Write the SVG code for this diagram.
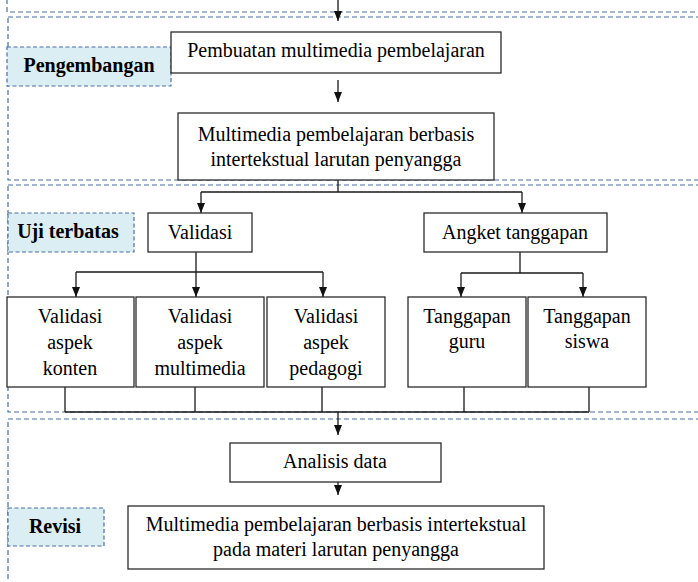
<svg xmlns="http://www.w3.org/2000/svg" width="698" height="582" viewBox="0 0 698 582">
<style>
.sec{fill:none;stroke:#4a6fa5;stroke-width:1.2;stroke-dasharray:5 3}
.lab{fill:#dbeef3;stroke:#4a6fa5;stroke-width:1.2;stroke-dasharray:4 2.5}
.box{fill:#fff;stroke:#2b2b2b;stroke-width:1.3}
.b{font-weight:bold}
.c{fill:none;stroke:#1a1a1a;stroke-width:1.3}
</style>
<defs>
<marker id="ah" markerWidth="10" markerHeight="10" viewBox="0 0 10 10" refX="10" refY="5" orient="auto" markerUnits="userSpaceOnUse"><path d="M0,1 L10,5 L0,9 z" fill="#111"/></marker>
</defs>
<rect fill="#fff" width="698" height="582"/>
<g id="sections">
<rect class="sec" x="7" y="-100" width="720" height="112"/>
<rect class="sec" x="8" y="17" width="720" height="163"/>
<rect class="sec" x="8" y="185" width="720" height="227"/>
<rect class="sec" x="8" y="419" width="720" height="220"/>
</g>
<g id="connectors">
<path class="c" d="M338,0 V21" marker-end="url(#ah)"/>
<path class="c" d="M338,80 V102" marker-end="url(#ah)"/>
<path class="c" d="M338,180 V192 M201,192 H522"/>
<path class="c" d="M201,192 V213" marker-end="url(#ah)"/>
<path class="c" d="M522,192 V213" marker-end="url(#ah)"/>
<path class="c" d="M196,252 V272 M76,272 H323"/>
<path class="c" d="M76,272 V297" marker-end="url(#ah)"/>
<path class="c" d="M196,272 V297" marker-end="url(#ah)"/>
<path class="c" d="M323,272 V297" marker-end="url(#ah)"/>
<path class="c" d="M520,252 V273 M461,273 H583"/>
<path class="c" d="M461,273 V297" marker-end="url(#ah)"/>
<path class="c" d="M583,273 V297" marker-end="url(#ah)"/>
<path class="c" d="M65,387 V412 M195,387 V412 M322,387 V412 M464,387 V412 M589,387 V412 M65,412 H589"/>
<path class="c" d="M338,412 V435" marker-end="url(#ah)"/>
<path class="c" d="M338,482 V495" marker-end="url(#ah)"/>
</g>
<g font-family="Liberation Serif, Times New Roman, serif" font-size="20" fill="#000" text-anchor="middle">
<g id="lbl-pengembangan"><rect class="lab" x="7" y="47" width="164" height="39"/><text class="b" x="89" y="72">Pengembangan</text></g>
<g id="lbl-uji"><rect class="lab" x="8" y="213" width="126" height="39"/><text class="b" x="68" y="238">Uji terbatas</text></g>
<g id="lbl-revisi"><rect class="lab" x="8" y="508" width="96" height="38"/><text class="b" x="55" y="533">Revisi</text></g>
<g id="n-pembuatan"><rect class="box" x="171" y="32" width="330" height="41"/><text x="336" y="57">Pembuatan multimedia pembelajaran</text></g>
<g id="n-multimedia"><rect class="box" x="178" y="113" width="316" height="67"/><text x="336" y="141">Multimedia pembelajaran berbasis</text><text x="336" y="166">intertekstual larutan penyangga</text></g>
<g id="n-validasi"><rect class="box" x="148" y="213" width="104" height="39"/><text x="200" y="239">Validasi</text></g>
<g id="n-angket"><rect class="box" x="424" y="213" width="183" height="39"/><text x="515" y="239">Angket tanggapan</text></g>
<g id="n-konten"><rect class="box" x="7" y="297" width="127" height="90"/><text x="70" y="323">Validasi</text><text x="70" y="349">aspek</text><text x="70" y="375">konten</text></g>
<g id="n-multimediaaspek"><rect class="box" x="136" y="297" width="128" height="90"/><text x="200" y="323">Validasi</text><text x="200" y="349">aspek</text><text x="200" y="375">multimedia</text></g>
<g id="n-pedagogi"><rect class="box" x="267" y="297" width="118" height="90"/><text x="326" y="323">Validasi</text><text x="326" y="349">aspek</text><text x="326" y="375">pedagogi</text></g>
<g id="n-guru"><rect class="box" x="408" y="297" width="118" height="90"/><text x="467" y="323">Tanggapan</text><text x="467" y="348">guru</text></g>
<g id="n-siswa"><rect class="box" x="528" y="297" width="118" height="90"/><text x="587" y="323">Tanggapan</text><text x="587" y="348">siswa</text></g>
<g id="n-analisis"><rect class="box" x="230" y="443" width="211" height="39"/><text x="335" y="468">Analisis data</text></g>
<g id="n-final"><rect class="box" x="128" y="506" width="416" height="63"/><text x="336" y="531">Multimedia pembelajaran berbasis intertekstual</text><text x="336" y="556">pada materi larutan penyangga</text></g>
</g>
</svg>
